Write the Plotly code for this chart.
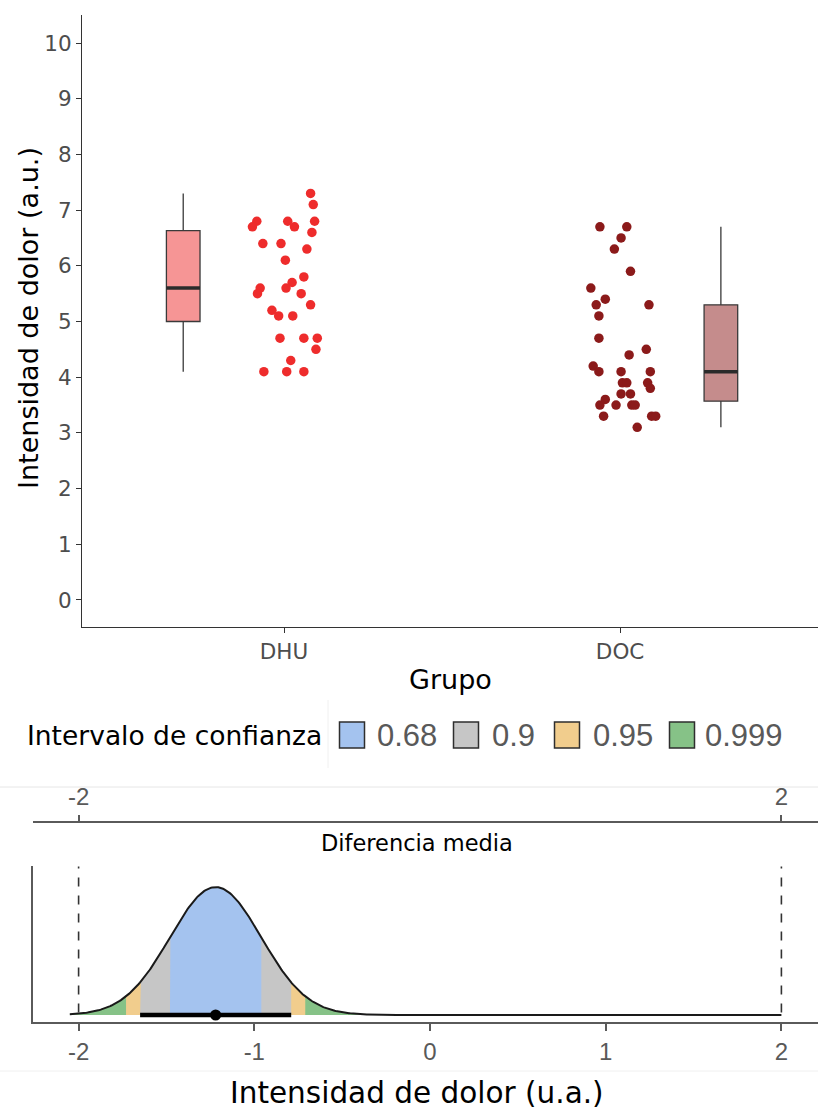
import numpy as np
import plotly.graph_objects as go

W, H = 818, 1113

# ---- group data: pain intensity per participant ----
groups = ["DHU", "DOC"]
group_pos = [1, 2]

dhu_values = [7.3, 7.1, 6.8, 6.7, 6.8, 6.7, 6.8, 6.6, 6.4, 6.4, 6.3, 6.1, 5.8, 5.7, 5.6,
              5.6, 5.5, 5.5, 5.3, 5.2, 5.1, 5.1, 4.7, 4.7, 4.7, 4.5, 4.3, 4.1, 4.1, 4.1]
dhu_jitter = [0.079, 0.087, -0.081, -0.094, 0.011, 0.031, 0.091, 0.083, -0.063, -0.009,
              0.068, 0.004, 0.059, 0.024, 0.006, -0.071, -0.079, 0.051, 0.079, -0.036,
              -0.016, 0.026, -0.012, 0.059, 0.099, 0.095, 0.020, -0.060, 0.008, 0.059]

doc_values = [6.7, 6.7, 6.5, 6.3, 5.9, 5.6, 5.4, 5.3, 5.3, 5.1, 4.7, 4.5, 4.4, 4.2, 4.1, 4.1,
              4.1, 3.9, 3.9, 3.9, 3.8, 3.7, 3.7, 3.6, 3.5, 3.5, 3.5, 3.5, 3.3, 3.3, 3.3, 3.1]
doc_jitter = [-0.060, 0.020, 0.003, -0.017, 0.031, -0.087, -0.044, -0.071, 0.086, -0.063,
              -0.063, 0.078, 0.027, -0.080, -0.063, 0.003, 0.090, 0.007, 0.020, 0.082,
              0.090, 0.003, 0.031, -0.044, -0.060, -0.012, 0.035, 0.045, -0.049, 0.094,
              0.106, 0.051]

# box summaries (whisker low, Q1, median, Q3, whisker high)
box_low = [4.1, 3.1]
box_q1 = [5.0, 3.57]
box_median = [5.6, 4.1]
box_q3 = [6.63, 5.3]
box_high = [7.3, 6.7]
box_offset = [-0.3, 0.3]

point_colors = ["#EE2C2C", "#8B1A1A"]
box_fills = ["rgba(238,44,44,0.5)", "rgba(139,26,26,0.5)"]

y_ticks = list(range(0, 11))

# ---- mean difference estimate ----
mean_diff = -1.22
sd_diff = 0.26
ci_levels = ["0.68", "0.9", "0.95", "0.999"]
ci_lower = [-1.48, -1.65, -1.73, -2.08]
ci_upper = [-0.96, -0.79, -0.71, -0.37]
ci_colors = ["#A4C3EF", "#C6C6C6", "#F1CD8D", "#86C287"]
diff_ticks = [-2, -1, 0, 1, 2]
top_ticks = [-2, 2]
curve_start, curve_end = -2.05, 2.0
point_interval = "0.9"


def px_x(v):
    return v / W


def px_y(v):
    return 1 - v / H


fig = go.Figure()

# ---- upper panel: boxes, medians and jittered points ----
series = [(dhu_values, dhu_jitter), (doc_values, doc_jitter)]
for i, g in enumerate(groups):
    xb = group_pos[i] + box_offset[i]
    fig.add_trace(go.Box(
        x=[xb], q1=[box_q1[i]], median=[box_median[i]], q3=[box_q3[i]],
        lowerfence=[box_low[i]], upperfence=[box_high[i]],
        width=0.1, whiskerwidth=0, fillcolor=box_fills[i],
        line=dict(color="#3A3A3A", width=1.3), boxpoints=False,
        hoverinfo="skip", showlegend=False, xaxis="x", yaxis="y"))
    fig.add_trace(go.Scatter(
        x=[xb - 0.05, xb + 0.05], y=[box_median[i]] * 2, mode="lines",
        line=dict(color="#2B2B2B", width=3.5), showlegend=False,
        hoverinfo="skip", xaxis="x", yaxis="y"))
    vals, jit = series[i]
    fig.add_trace(go.Scatter(
        x=[group_pos[i] + j for j in jit], y=vals, mode="markers",
        marker=dict(color=point_colors[i], size=9.5, line=dict(width=0)),
        showlegend=False, name=g, xaxis="x", yaxis="y"))

# ---- lower panel: density of the mean difference ----
def density(x):
    return np.exp(-0.5 * ((x - mean_diff) / sd_diff) ** 2) / (sd_diff * np.sqrt(2 * np.pi))


for k in reversed(range(len(ci_levels))):
    lo = max(ci_lower[k], curve_start)
    hi = ci_upper[k]
    xs = np.linspace(lo, hi, 200)
    ys = density(xs)
    fig.add_trace(go.Scatter(
        x=np.concatenate([[lo], xs, [hi]]), y=np.concatenate([[0], ys, [0]]),
        mode="lines", fill="toself", fillcolor=ci_colors[k], line=dict(width=0),
        showlegend=False, hoverinfo="skip", xaxis="x2", yaxis="y2"))

xc = np.linspace(curve_start, curve_end, 600)
fig.add_trace(go.Scatter(
    x=xc, y=density(xc), mode="lines", line=dict(color="#1A1A1A", width=2),
    showlegend=False, hoverinfo="skip", xaxis="x2", yaxis="y2"))

pi = ci_levels.index(point_interval)
fig.add_trace(go.Scatter(
    x=[ci_lower[pi], ci_upper[pi]], y=[0, 0], mode="lines",
    line=dict(color="black", width=4.5), showlegend=False, hoverinfo="skip",
    xaxis="x2", yaxis="y2"))
fig.add_trace(go.Scatter(
    x=[mean_diff], y=[0], mode="markers", marker=dict(color="black", size=11),
    showlegend=False, hoverinfo="skip", xaxis="x2", yaxis="y2"))

# anchor trace for the secondary (top) axis of the lower panel
fig.add_trace(go.Scatter(x=top_ticks, y=[None, None], mode="markers",
                         showlegend=False, hoverinfo="skip", xaxis="x3", yaxis="y2"))

shapes = []
for v in (-2, 2):
    shapes.append(dict(type="line", xref="x2", yref="y2", x0=v, x1=v, y0=0.03, y1=1.78,
                       line=dict(color="#333333", width=1.6, dash="dash")))

# separators
shapes.append(dict(type="line", xref="paper", yref="paper", x0=0, x1=1,
                   y0=px_y(787), y1=px_y(787), line=dict(color="#E6E6E6", width=1)))
shapes.append(dict(type="line", xref="paper", yref="paper", x0=0, x1=1,
                   y0=px_y(1071), y1=px_y(1071), line=dict(color="#F0F0F0", width=1)))
shapes.append(dict(type="line", xref="paper", yref="paper", x0=px_x(328), x1=px_x(328),
                   y0=px_y(700), y1=px_y(768), line=dict(color="#F0F0F0", width=1)))

annotations = []
# legend for the interval levels
legend_sq_cx = [352, 466, 567, 682]
legend_txt_cx = [407, 513, 623, 744]
legend_cy = 735
for k, lev in enumerate(ci_levels):
    shapes.append(dict(type="rect", xref="paper", yref="paper",
                       x0=px_x(legend_sq_cx[k] - 12.5), x1=px_x(legend_sq_cx[k] + 12.5),
                       y0=px_y(legend_cy + 13), y1=px_y(legend_cy - 13),
                       fillcolor=ci_colors[k], line=dict(color="#2E2E2E", width=1.5)))
    annotations.append(dict(x=px_x(legend_txt_cx[k]), y=px_y(legend_cy), xref="paper", yref="paper",
                            text=lev, showarrow=False, xanchor="center", yanchor="middle",
                            font=dict(family="Liberation Sans Narrow, Liberation Sans", size=31,
                                      color="#595959")))
annotations.append(dict(x=px_x(25), y=px_y(legend_cy), xref="paper", yref="paper",
                        text="Intervalo de confianza", showarrow=False, xanchor="left",
                        yanchor="middle", font=dict(family="DejaVu Sans", size=26.5, color="black")))

# axis titles
annotations.append(dict(x=px_x(28), y=px_y(318), xref="paper", yref="paper",
                        text="Intensidad de dolor (a.u.)", showarrow=False, textangle=-90,
                        xanchor="center", yanchor="middle",
                        font=dict(family="DejaVu Sans", size=27, color="black")))
annotations.append(dict(x=px_x(451), y=px_y(679), xref="paper", yref="paper",
                        text="Grupo", showarrow=False, xanchor="center", yanchor="middle",
                        font=dict(family="DejaVu Sans", size=27, color="black")))
annotations.append(dict(x=px_x(417), y=px_y(843), xref="paper", yref="paper",
                        text="Diferencia media", showarrow=False, xanchor="center",
                        yanchor="middle", font=dict(family="DejaVu Sans", size=22.5, color="black")))
annotations.append(dict(x=px_x(417), y=px_y(1093), xref="paper", yref="paper",
                        text="Intensidad de dolor (u.a.)", showarrow=False, xanchor="center",
                        yanchor="middle", font=dict(family="DejaVu Sans", size=29.5, color="black")))

top_font = dict(family="DejaVu Sans", size=21.5, color="#4D4D4D")
narrow_font = dict(family="Liberation Sans Narrow, Liberation Sans", size=24, color="#595959")

# bottom-panel x range from pixel calibration: 0 at x=430, 175.7 px per unit
x2_range = [(33 - 430) / 175.7, (818 - 430) / 175.7]

fig.update_layout(
    width=W, height=H, margin=dict(l=0, r=0, t=0, b=0),
    paper_bgcolor="white", plot_bgcolor="white", showlegend=False,
    shapes=shapes, annotations=annotations,
    xaxis=dict(domain=[px_x(82), 1], range=[0.3988, 2.589], anchor="y",
               tickvals=group_pos, ticktext=groups, showgrid=False, zeroline=False,
               showline=True, linecolor="#333333", linewidth=1.2,
               ticks="outside", ticklen=5, tickcolor="#333333", tickfont=top_font),
    yaxis=dict(domain=[px_y(627), px_y(15)], range=[-0.485, 10.503], anchor="x",
               tickvals=y_ticks, showgrid=False, zeroline=False,
               showline=True, linecolor="#333333", linewidth=1.2,
               ticks="outside", ticklen=5, tickcolor="#333333", tickfont=top_font),
    xaxis2=dict(domain=[px_x(33), 1], range=x2_range, anchor="y2",
                tickvals=diff_ticks, ticktext=[str(t) for t in diff_ticks],
                showgrid=False, zeroline=False,
                showline=True, linecolor="#5A5A5A", linewidth=2,
                ticks="outside", ticklen=7, tickwidth=2, tickcolor="#5A5A5A",
                tickfont=narrow_font),
    xaxis3=dict(overlaying="x2", anchor="free", position=px_y(822), side="top",
                range=x2_range, tickvals=top_ticks, ticktext=[str(t) for t in top_ticks],
                showgrid=False, zeroline=False,
                showline=True, linecolor="#5A5A5A", linewidth=2,
                ticks="outside", ticklen=6, tickwidth=2, tickcolor="#5A5A5A",
                tickfont=narrow_font),
    yaxis2=dict(domain=[px_y(1022), px_y(866)], range=[-0.084, 1.787], anchor="x2",
                showticklabels=False, ticks="", showgrid=False, zeroline=False,
                showline=True, linecolor="#5A5A5A", linewidth=2),
)

fig.write_html("out.html")
